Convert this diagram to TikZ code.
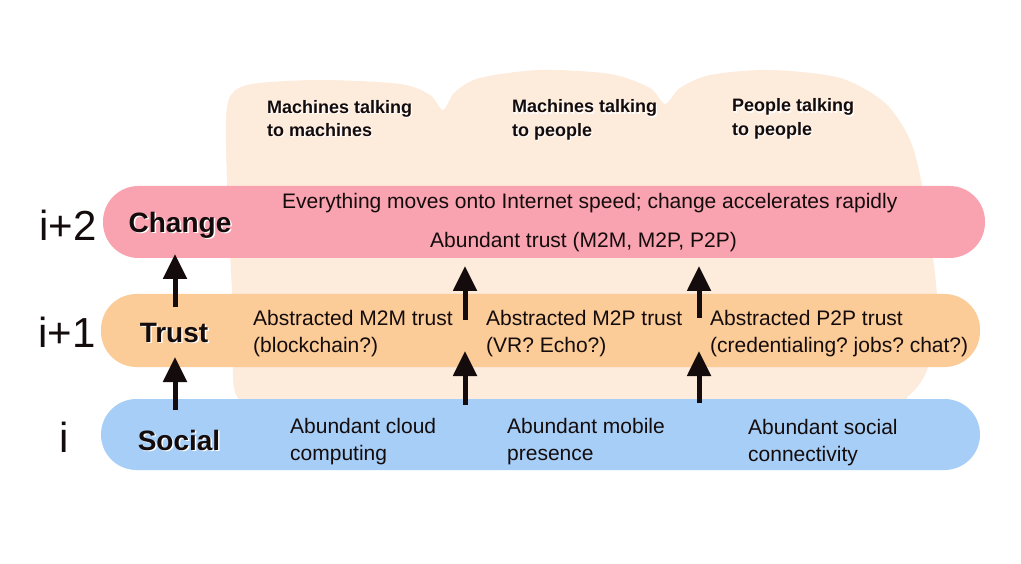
\documentclass[tikz,border=0pt]{standalone}
\usepackage{fontspec}
\setmainfont{Liberation Sans}
\usetikzlibrary{arrows.meta,calc}
\frenchspacing
\definecolor{blob}{RGB}{253,235,219}
\definecolor{pinkbar}{RGB}{249,163,177}
\definecolor{orangebar}{RGB}{251,203,152}
\definecolor{bluebar}{RGB}{166,206,247}
\definecolor{ink}{RGB}{20,12,12}
\tikzset{
  bar/.style={rounded corners=35.5pt, inner sep=0pt, draw=none},
  uparrow/.style={draw=ink, line width=5pt, -{Triangle[length=25pt,width=23pt]}},
  lvl/.style={font=\fontsize{42}{42}\selectfont, text=ink, inner sep=0pt},
  tag/.style={font=\fontsize{28}{28}\selectfont\bfseries, text=ink, inner sep=0pt},
  tagsh/.style={font=\fontsize{28}{28}\selectfont\bfseries, text=white, inner sep=0pt},
  head/.style={font=\fontsize{18}{23.5}\selectfont\bfseries, text=ink, align=left, inner sep=0pt, anchor=west},
  headsh/.style={font=\fontsize{18}{23.5}\selectfont\bfseries, text=white, align=left, inner sep=0pt, anchor=west},
  body/.style={font=\fontsize{21}{27}\selectfont\frenchspacing, text=ink, align=left, inner sep=0pt, anchor=west},
}
\begin{document}
\begin{tikzpicture}[x=1pt,y=-1pt]
\useasboundingbox (0,0) rectangle (1021,564);
\fill[white] (0,0) rectangle (1021,564);
% background blobs
\fill[blob] plot[smooth cycle, tension=0.5] coordinates {
 (226,120) (231,95) (252,84) (320,80) (400,84) (430,95) (443,110) (455,92)
 (480,78) (540,70) (610,74) (650,88) (665,104) (680,88) (710,75) (770,70)
 (840,78) (885,103) (910,140) (922,185) (932,250) (937,300) (933,345)
 (925,375) (908,396) (880,404) (600,406) (300,406) (238,398) (234,330) (230,250) (227,180)};
% bars
\node[bar, fill=pinkbar, minimum width=882pt, minimum height=72pt] (chgbar) at (544,222) {};
\node[bar, fill=orangebar, minimum width=879pt, minimum height=73pt] (trbar) at (540.5,330.5) {};
\node[bar, fill=bluebar, minimum width=879pt, minimum height=71pt] (socbar) at (540.5,434.5) {};
% level labels
\node[lvl] (l2) at (68,225) {i+2};
\node[lvl] (l1) at (67,332) {i+1};
\node[lvl] (l0) at (64,437) {i};
% tags with shadow
\node[tagsh] (chgsh) at (181.5,226.5) {Change};
\node[tag] (chg) at (180,225) {Change};
\node[tagsh] (trsh) at (175.5,334.5) {Trust};
\node[tag] (tr) at (174,333) {Trust};
\node[tagsh] (socsh) at (180.5,441.5) {Social};
\node[tag] (soc) at (179,440) {Social};
% headings
\node[headsh] (h1sh) at (268.2,119.7) {Machines talking\\to machines};
\node[head] (h1) at (267,118.5) {Machines talking\\to machines};
\node[headsh] (h2sh) at (513.2,121.2) {Machines talking\\to people};
\node[head] (h2) at (512,120) {Machines talking\\to people};
\node[headsh] (h3sh) at (733.2,120.2) {People talking\\to people};
\node[head] (h3) at (732,119) {People talking\\to people};
% bar texts
\node[body] (t1) at (282,203) {Everything moves onto Internet speed; change accelerates rapidly};
\node[body] (t2) at (430,242) {Abundant trust (M2M, M2P, P2P)};
\node[body] (m2m) at (253,334) {Abstracted M2M trust\\(blockchain?)};
\node[body] (m2p) at (486,334) {Abstracted M2P trust\\(VR? Echo?)};
\node[body] (p2p) at (710,334) {Abstracted P2P trust\\(credentialing? jobs? chat?)};
\node[body] (cloud) at (290,442) {Abundant cloud\\computing};
\node[body] (mobile) at (507,442) {Abundant mobile\\presence};
\node[body] (social) at (748,443) {Abundant social\\connectivity};
% arrow ends
\coordinate (aL0) at (175,410); \coordinate (aL1) at (175,357);
\coordinate (aL2) at (175,307); \coordinate (aL3) at (175,254);
\coordinate (aM0) at (465,405); \coordinate (aM1) at (465,351);
\coordinate (aM2) at (465,320); \coordinate (aM3) at (465,266);
\coordinate (aR0) at (699,403); \coordinate (aR1) at (699,351);
\coordinate (aR2) at (699,318); \coordinate (aR3) at (699,266);
\draw[uparrow] (aL0) -- (aL1);
\draw[uparrow] (aL2) -- (aL3);
\draw[uparrow] (aM0) -- (aM1);
\draw[uparrow] (aM2) -- (aM3);
\draw[uparrow] (aR0) -- (aR1);
\draw[uparrow] (aR2) -- (aR3);
\end{tikzpicture}
\end{document}
